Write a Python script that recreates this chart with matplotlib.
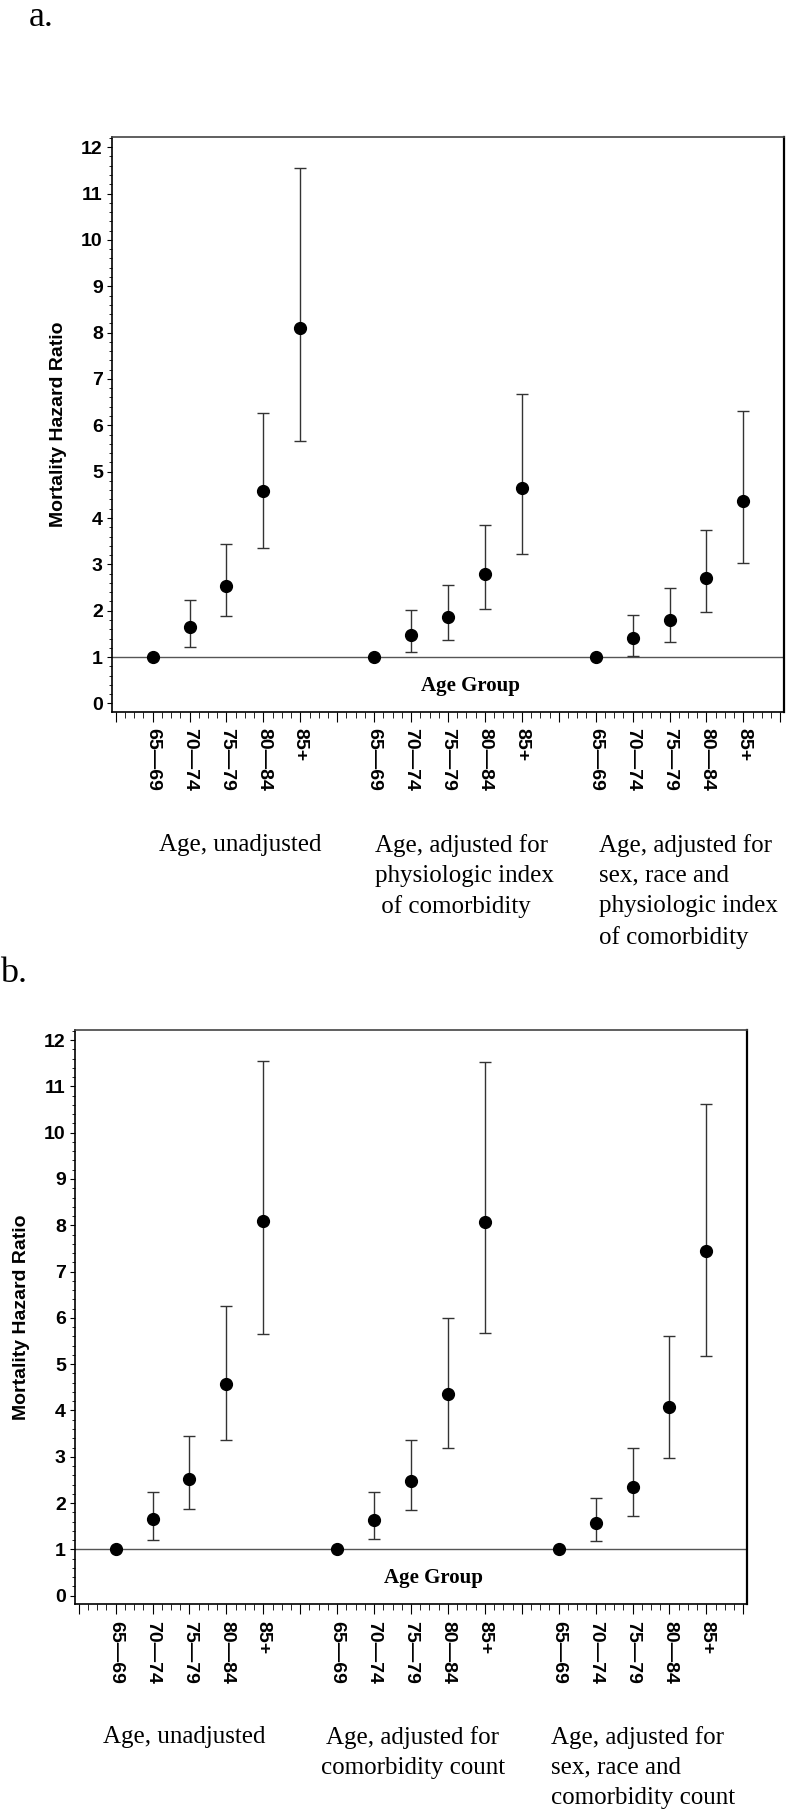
import matplotlib
matplotlib.use('Agg')
import matplotlib.pyplot as plt
from matplotlib.ticker import MultipleLocator
import numpy as np

age_groups = ['65\u201469', '70\u201474', '75\u201479', '80\u201484', '85+']

# panel a: hazard ratios with 95% CI
a_hr_unadj = [1.0, 1.65, 2.53, 4.58, 8.09]
a_lo_unadj = [1.0, 1.21, 1.88, 3.36, 5.66]
a_hi_unadj = [1.0, 2.24, 3.44, 6.26, 11.55]

a_hr_pic = [1.0, 1.47, 1.87, 2.79, 4.64]
a_lo_pic = [1.0, 1.10, 1.36, 2.03, 3.22]
a_hi_pic = [1.0, 2.01, 2.55, 3.85, 6.67]

a_hr_full = [1.0, 1.41, 1.80, 2.71, 4.36]
a_lo_full = [1.0, 1.03, 1.33, 1.98, 3.03]
a_hi_full = [1.0, 1.91, 2.49, 3.75, 6.31]

# panel b
b_hr_unadj = [1.0, 1.65, 2.53, 4.58, 8.09]
b_lo_unadj = [1.0, 1.21, 1.88, 3.36, 5.66]
b_hi_unadj = [1.0, 2.24, 3.44, 6.26, 11.55]

b_hr_count = [1.0, 1.64, 2.48, 4.36, 8.08]
b_lo_count = [1.0, 1.22, 1.84, 3.20, 5.67]
b_hi_count = [1.0, 2.23, 3.36, 5.99, 11.53]

b_hr_full = [1.0, 1.56, 2.34, 4.08, 7.44]
b_lo_full = [1.0, 1.17, 1.73, 2.97, 5.18]
b_hi_full = [1.0, 2.12, 3.20, 5.60, 10.63]

a_titles = ['Age, unadjusted',
            'Age, adjusted for\nphysiologic index\n of comorbidity',
            'Age, adjusted for\nsex, race and\nphysiologic index\nof comorbidity']
b_titles = ['Age, unadjusted',
            'Age, adjusted for\ncomorbidity count',
            'Age, adjusted for\nsex, race and\ncomorbidity count']

SANS = 'Liberation Sans'
SERIF = 'Liberation Serif'


def draw_panel(ax, groups, titles, title_x, title_ha):
    tick_labels = [''] * 19
    for gi, (hr, lo, hi) in enumerate(groups):
        x = np.arange(1, 6) + 6 * gi
        hr = np.array(hr)
        err = [hr - np.array(lo), np.array(hi) - hr]
        ax.errorbar(x, hr, yerr=err, fmt='none', ecolor='#333333',
                    elinewidth=1.0, capsize=4, capthick=1.0, zorder=2)
        ax.plot(x, hr, 'o', color='black', markersize=8.5, zorder=3)
        for xi, lab in zip(x, age_groups):
            tick_labels[xi] = lab

    ax.axhline(1, color='#555555', lw=1.0, zorder=1)
    ax.set_xlim(-0.1, 18.1)
    ax.set_ylim(-0.18, 12.22)

    ax.yaxis.set_minor_locator(MultipleLocator(0.2))
    ax.set_yticks(range(0, 13))
    ax.set_yticklabels([str(v) for v in range(0, 13)], fontfamily=SANS,
                       fontweight='bold', fontsize=14)

    ax.set_xticks(range(0, 19))
    ax.xaxis.set_minor_locator(MultipleLocator(0.25))
    ax.set_xticklabels(tick_labels, rotation=-90, fontfamily=SANS,
                       fontweight='bold', fontsize=14, va='top')

    ax.tick_params(axis='y', which='major', direction='out', length=3.6, width=0.8, pad=3)
    ax.tick_params(axis='y', which='minor', direction='out', length=2, width=0.6)
    ax.tick_params(axis='x', which='major', direction='out', length=7, width=0.8, pad=5)
    ax.tick_params(axis='x', which='minor', direction='out', length=4, width=0.6)

    for s in ax.spines.values():
        s.set_linewidth(1.2)
    ax.spines['top'].set_color('#444444')
    ax.spines['right'].set_linewidth(1.6)

    ax.set_ylabel('Mortality Hazard Ratio', fontfamily=SANS, fontweight='bold',
                  fontsize=14, labelpad=10)
    ax.text(9.6, 0.38, 'Age Group', fontfamily=SERIF, fontweight='bold',
            fontsize=15, ha='center', va='center')

    trans = ax.get_xaxis_transform()
    for t, x, ha in zip(titles, title_x, title_ha):
        ax.text(x, -0.212, t, transform=trans, fontfamily=SERIF, fontsize=18,
                ha=ha, va='top', multialignment=ha, linespacing=1.48)


fig = plt.figure(figsize=(7.92, 18.19), dpi=100)

ax_a = fig.add_axes([0.1414, 0.6087, 0.8485, 0.316])
draw_panel(ax_a,
           [(a_hr_unadj, a_lo_unadj, a_hi_unadj),
            (a_hr_pic, a_lo_pic, a_hi_pic),
            (a_hr_full, a_lo_full, a_hi_full)],
           a_titles, [1.18, 7.01, 13.1], ['left', 'left', 'left'])

ax_b = fig.add_axes([0.0947, 0.1182, 0.8485, 0.3156])
draw_panel(ax_b,
           [(b_hr_unadj, b_lo_unadj, b_hi_unadj),
            (b_hr_count, b_lo_count, b_hi_count),
            (b_hr_full, b_lo_full, b_hi_full)],
           b_titles, [0.67, 9.05, 12.79], ['left', 'center', 'left'])

fig.text(41 / 792, 1 - 17 / 1819, 'a.', fontfamily=SERIF, fontsize=26,
         ha='center', va='center')
fig.text(14 / 792, 1 - 973 / 1819, 'b.', fontfamily=SERIF, fontsize=26,
         ha='center', va='center')

fig.savefig('out.png', dpi=100)
